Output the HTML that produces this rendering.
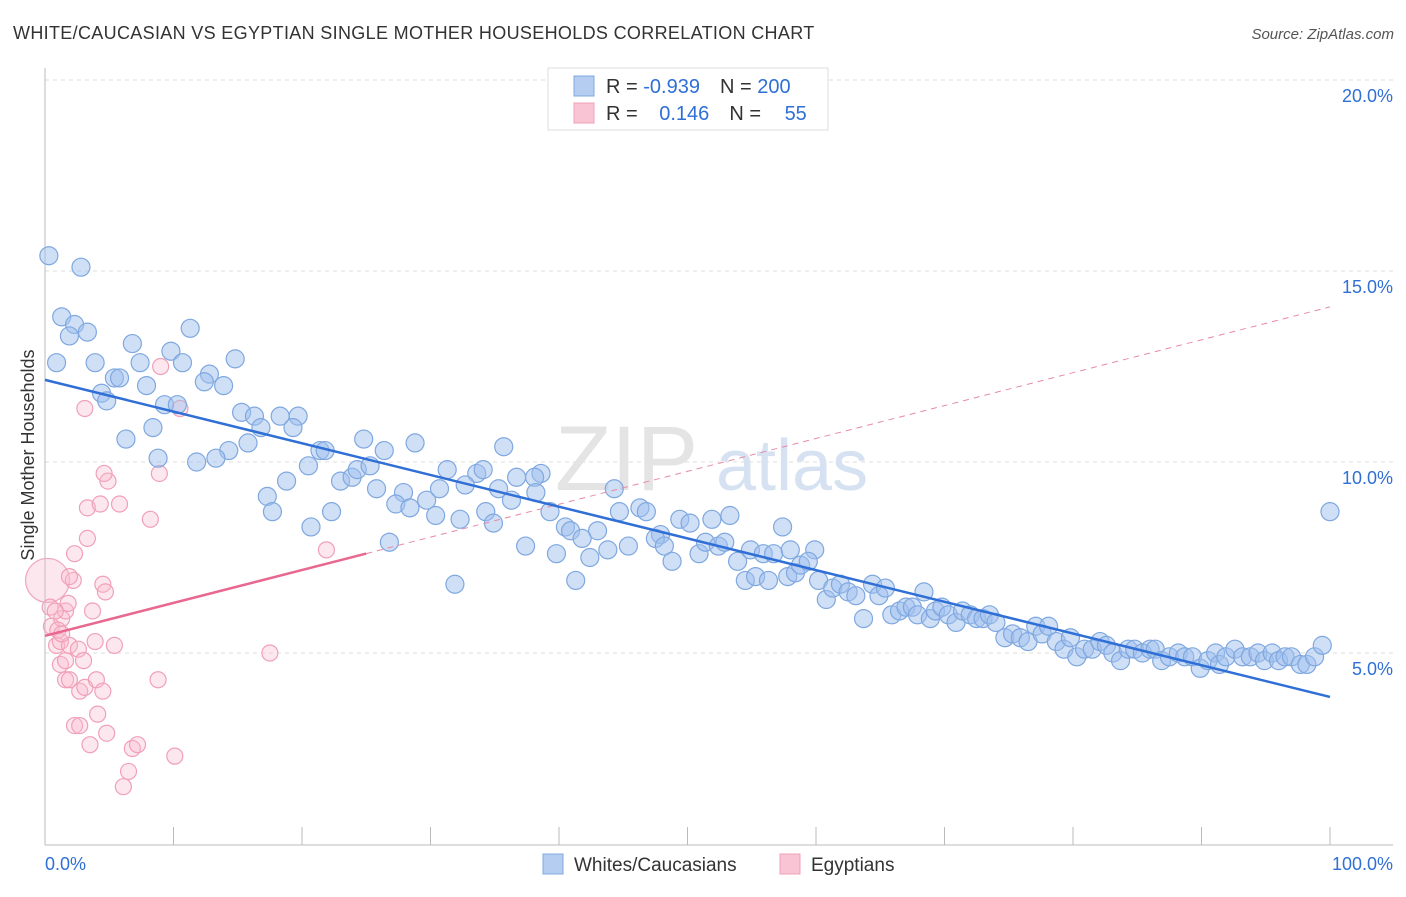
<!DOCTYPE html>
<html><head><meta charset="utf-8"><style>
body{margin:0;background:#fff;font-family:"Liberation Sans",sans-serif;}
svg text{font-family:"Liberation Sans",sans-serif;}
</style></head><body>
<svg id="chart" width="1406" height="892" xmlns="http://www.w3.org/2000/svg">
<text x="13" y="39" font-size="18" fill="#333" letter-spacing="0.33">WHITE/CAUCASIAN VS EGYPTIAN SINGLE MOTHER HOUSEHOLDS CORRELATION CHART</text>
<text x="1394" y="39" font-size="15" fill="#555" font-style="italic" text-anchor="end">Source: ZipAtlas.com</text>
<g id="grid"></g>
<g><text x="555" y="490" font-size="92" font-family="Liberation Serif" fill="#e4e4e4">ZIP</text><text x="716" y="490" font-size="72" fill="#d6e2f2">atlas</text></g>
<g id="axes"></g>
<g id="pink"></g>
<g id="blue"></g>
<g id="trends"></g>
<text transform="translate(34,455) rotate(-90)" font-size="18" fill="#333" text-anchor="middle">Single Mother Households</text>
<g>
<rect x="548" y="68" width="280" height="62" fill="#fff" stroke="#ddd"/>
<rect x="574" y="76" width="20" height="20" fill="#b5cdf0" stroke="#7fa8e0"/>
<rect x="574" y="103" width="20" height="20" fill="#f9c5d5" stroke="#f0a0b8"/>
<text x="606" y="93" font-size="20" fill="#333">R = <tspan fill="#2f6fd6">-0.939</tspan><tspan dx="20">N = </tspan><tspan fill="#2f6fd6">200</tspan></text>
<text x="606" y="120" font-size="20" fill="#333">R = <tspan fill="#2f6fd6" dx="16">0.146</tspan><tspan dx="20">N = </tspan><tspan fill="#2f6fd6" dx="18">55</tspan></text>
</g>
<g>
<rect x="543" y="854" width="20" height="20" fill="#b5cdf0" stroke="#7fa8e0"/>
<text x="574" y="871" font-size="19" fill="#333">Whites/Caucasians</text>
<rect x="780" y="854" width="20" height="20" fill="#f9c5d5" stroke="#f0a0b8"/>
<text x="811" y="871" font-size="19" fill="#333">Egyptians</text>
</g>
</svg>
<script>
const yTicks=[5,10,15,20];
const yTickLabels=["5.0%","10.0%","15.0%","20.0%"];
const xTickLabels=["0.0%","100.0%"];
const blueX=[0.3,2.8,1.3,2.3,1.9,3.3,0.9,3.9,6.8,11.3,9.8,7.4,10.7,14.8,5.4,5.8,4.4,4.8,7.9,12.8,12.4,13.9,9.3,10.3,8.4,6.3,15.3,16.3,18.3,19.7,16.8,19.3,15.8,14.3,8.8,11.8,13.3,21.4,21.8,24.8,26.4,28.8,35.7,20.5,18.8,23.0,23.9,24.3,25.3,31.3,33.6,34.1,36.7,38.6,38.1,25.8,17.3,17.7,22.3,20.7,27.9,27.3,28.4,29.7,30.7,32.7,35.3,38.2,36.3,30.4,32.3,34.3,34.9,26.8,39.3,40.5,40.9,43.0,44.3,46.3,46.8,44.7,47.9,49.4,50.2,51.9,53.3,57.4,37.4,39.8,41.8,42.4,43.8,45.4,47.5,48.2,48.8,50.9,51.4,52.4,52.9,53.9,54.9,55.9,56.7,58.0,59.9,31.9,41.3,54.5,55.3,56.3,57.8,58.4,58.8,59.4,60.2,60.8,61.3,61.9,62.5,63.1,63.7,64.4,64.9,65.4,65.9,66.5,67.0,67.5,67.9,68.4,68.9,69.3,69.8,70.3,70.9,71.4,72.0,72.5,73.0,73.5,74.0,74.7,75.3,75.9,76.5,77.1,77.6,78.1,78.7,79.3,79.8,80.3,80.9,81.5,82.1,82.6,83.1,83.7,84.3,84.8,85.4,86.0,86.4,86.9,87.5,88.2,88.7,89.3,89.9,90.5,91.1,91.4,91.9,92.6,93.2,93.8,94.4,94.9,95.5,96.0,96.5,97.0,97.7,98.2,98.8,99.4,100];
const blueY=[15.4,15.1,13.8,13.6,13.3,13.4,12.6,12.6,13.1,13.5,12.9,12.6,12.6,12.7,12.2,12.2,11.8,11.6,12.0,12.3,12.1,12.0,11.5,11.5,10.9,10.6,11.3,11.2,11.2,11.2,10.9,10.9,10.5,10.3,10.1,10.0,10.1,10.3,10.3,10.6,10.3,10.5,10.4,9.9,9.5,9.5,9.6,9.8,9.9,9.8,9.7,9.8,9.6,9.7,9.6,9.3,9.1,8.7,8.7,8.3,9.2,8.9,8.8,9.0,9.3,9.4,9.3,9.2,9.0,8.6,8.5,8.7,8.4,7.9,8.7,8.3,8.2,8.2,9.3,8.8,8.7,8.7,8.1,8.5,8.4,8.5,8.6,8.3,7.8,7.6,8.0,7.5,7.7,7.8,8.0,7.8,7.4,7.6,7.9,7.8,7.9,7.4,7.7,7.6,7.6,7.7,7.7,6.8,6.9,6.9,7.0,6.9,7.0,7.1,7.3,7.4,6.9,6.4,6.7,6.8,6.6,6.5,5.9,6.8,6.5,6.7,6.0,6.1,6.2,6.2,6.0,6.6,5.9,6.1,6.2,6.0,5.8,6.1,6.0,5.9,5.9,6.0,5.8,5.4,5.5,5.4,5.3,5.7,5.5,5.7,5.3,5.1,5.4,4.9,5.1,5.1,5.3,5.2,5.0,4.8,5.1,5.1,5.0,5.1,5.1,4.8,4.9,5.0,4.9,4.9,4.6,4.8,5.0,4.7,4.9,5.1,4.9,4.9,5.0,4.8,5.0,4.8,4.9,4.9,4.7,4.7,4.9,5.2,8.7];
const pinkX=[0.4,0.5,0.9,1.2,1.3,1.6,1.8,1.2,1.6,1.9,2.2,2.3,2.6,3.0,3.1,3.3,3.3,3.7,3.9,4.3,4.5,4.7,4.9,5.4,5.8,6.1,6.5,6.8,7.2,8.2,8.8,8.9,9.0,10.1,10.5,17.5,21.9,1.6,2.3,2.7,3.1,4.0,4.1,4.5,4.8,3.5,2.7,1.0,1.3,0.8,1.9,4.6,1.9];
const pinkY=[6.2,5.7,5.2,5.3,5.9,6.1,6.3,4.7,4.8,5.2,6.9,7.6,5.1,4.8,11.4,8.8,8.0,6.1,5.3,8.9,6.8,6.6,9.5,5.2,8.9,1.5,1.9,2.5,2.6,8.5,4.3,9.7,12.5,2.3,11.4,5.0,7.7,4.3,3.1,4.0,4.1,4.3,3.4,4.0,2.9,2.6,3.1,5.6,5.5,6.1,7.0,9.7,4.3];
const bigPink=[0.2,6.9];
const blueTrend=[12.15,3.85];
const pinkTrend=[5.45,14.06];
const pinkSolidEnd=25;

const NS="http://www.w3.org/2000/svg";
const X=v=>45+v*12.85, Y=v=>844-v*38.2;
function mk(tag,attrs,parent){const e=document.createElementNS(NS,tag);for(const k in attrs)e.setAttribute(k,attrs[k]);parent.appendChild(e);return e;}
const grid=document.getElementById('grid'),axes=document.getElementById('axes');
yTicks.forEach((t,i)=>{
 const l=mk('line',{x1:45,x2:1393,y1:Y(t),y2:Y(t),stroke:'#ddd','stroke-dasharray':'4,4'},grid);
 
 
 const tx=mk('text',{x:1393,y:Y(t)+22,'font-size':18,fill:'#2f6fd6','text-anchor':'end'},axes);
 tx.textContent=yTickLabels[i];
 
 
});
const ax=mk('line',{x1:45,x2:1393,y1:845,y2:845,stroke:'#bbb'},axes);


const ay=mk('line',{x1:45,x2:45,y1:68,y2:845,stroke:'#bbb'},axes);


for(let i=0;i<=10;i++){
 const t=mk('line',{x1:X(i*10),x2:X(i*10),y1:827,y2:845,stroke:'#bbb'},axes);
 
 
}
[[0,'start',45],[100,'end',1393]].forEach((d,i)=>{
 const tx=mk('text',{x:d[2],y:870,'font-size':18,fill:'#2f6fd6','text-anchor':d[1]},axes);
 tx.textContent=xTickLabels[i];
 
 
});
const pg=document.getElementById('pink');
const bp=mk('circle',{cx:X(bigPink[0]),cy:Y(bigPink[1]),r:22,fill:'rgba(248,185,205,0.35)',stroke:'#f0a8bf','stroke-width':1.2},pg);


pinkX.forEach((x,i)=>{
 const c=mk('circle',{cx:X(x),cy:Y(pinkY[i]),r:8,fill:'rgba(248,185,205,0.35)',stroke:'#f0a0b8','stroke-width':1.2},pg);
 
 
});
const bg=document.getElementById('blue');
blueX.forEach((x,i)=>{
 const c=mk('circle',{cx:X(x),cy:Y(blueY[i]),r:9,fill:'rgba(160,192,238,0.5)',stroke:'#7fa8e0','stroke-width':1.2},bg);
 
 
});
const tg=document.getElementById('trends');
const pAt=v=>pinkTrend[0]+(pinkTrend[1]-pinkTrend[0])*v/100;
const pd=mk('line',{x1:X(pinkSolidEnd),y1:Y(pAt(pinkSolidEnd)),x2:X(100),y2:Y(pinkTrend[1]),stroke:'#e88aa8','stroke-width':1,'stroke-dasharray':'6,5'},tg);


const ps=mk('line',{x1:X(0),y1:Y(pinkTrend[0]),x2:X(pinkSolidEnd),y2:Y(pAt(pinkSolidEnd)),stroke:'#e8688f','stroke-width':2.5},tg);


const bl=mk('line',{x1:X(0),y1:Y(blueTrend[0]),x2:X(100),y2:Y(blueTrend[1]),stroke:'#2f6fd6','stroke-width':2.5},tg);


</script>
</body></html>
